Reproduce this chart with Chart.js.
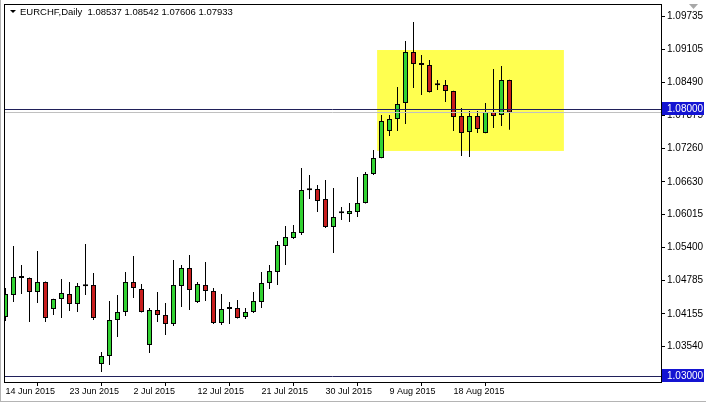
<!DOCTYPE html>
<html>
<head>
<meta charset="utf-8">
<script src="https://cdn.jsdelivr.net/npm/chart.js@4/dist/chart.umd.min.js"></script>
<style>
  html, body { margin: 0; padding: 0; background: #fff; }
  #chart { display: block; }
</style>
</head>
<body>
<canvas id="chart" width="706" height="402"></canvas>
<script>
// daily bars, Sun..Fri like the broker feed
const dates = [
  '14 Jun 2015', '15 Jun 2015', '16 Jun 2015', '17 Jun 2015', '18 Jun 2015', '19 Jun 2015',
  '21 Jun 2015', '22 Jun 2015', '23 Jun 2015', '24 Jun 2015', '25 Jun 2015', '26 Jun 2015',
  '28 Jun 2015', '29 Jun 2015', '30 Jun 2015', '1 Jul 2015', '2 Jul 2015', '3 Jul 2015',
  '5 Jul 2015', '6 Jul 2015', '7 Jul 2015', '8 Jul 2015', '9 Jul 2015', '10 Jul 2015',
  '12 Jul 2015', '13 Jul 2015', '14 Jul 2015', '15 Jul 2015', '16 Jul 2015', '17 Jul 2015',
  '19 Jul 2015', '20 Jul 2015', '21 Jul 2015', '22 Jul 2015', '23 Jul 2015', '24 Jul 2015',
  '26 Jul 2015', '27 Jul 2015', '28 Jul 2015', '29 Jul 2015', '30 Jul 2015', '31 Jul 2015',
  '2 Aug 2015', '3 Aug 2015', '4 Aug 2015', '5 Aug 2015', '6 Aug 2015', '7 Aug 2015',
  '9 Aug 2015', '10 Aug 2015', '11 Aug 2015', '12 Aug 2015', '13 Aug 2015', '14 Aug 2015',
  '16 Aug 2015', '17 Aug 2015', '18 Aug 2015', '19 Aug 2015', '20 Aug 2015', '21 Aug 2015',
  '23 Aug 2015', '24 Aug 2015', '25 Aug 2015', '26 Aug 2015'
];

const opens = [
  1.04097, 1.04509, 1.04830, 1.04828, 1.04566, 1.04753, 1.04247, 1.04434, 1.04528, 1.04341,
  1.04680, 1.04697, 1.03217, 1.03367, 1.04041, 1.04191, 1.04753, 1.04622, 1.03573, 1.04228,
  1.04135, 1.03966, 1.04678, 1.05015, 1.04378, 1.04697, 1.04585, 1.03985, 1.04250, 1.04266,
  1.04097, 1.04191, 1.04378, 1.04734, 1.04940, 1.05427, 1.05577, 1.05671, 1.06480, 1.06495,
  1.06308, 1.05783, 1.06045, 1.06027, 1.06064, 1.06233, 1.06776, 1.07075, 1.07581, 1.07806,
  1.08105, 1.09061, 1.08820, 1.08817, 1.08445, 1.08443, 1.08330, 1.07862, 1.07563, 1.07862,
  1.07544, 1.07937, 1.07881, 1.08537
];
const highs = [
  1.04640, 1.05427, 1.05071, 1.04835, 1.05333, 1.04760, 1.04440, 1.04809, 1.04753, 1.04734,
  1.05465, 1.04922, 1.03442, 1.04397, 1.04509, 1.04940, 1.05240, 1.04716, 1.04266, 1.04566,
  1.04359, 1.05165, 1.05071, 1.05259, 1.04753, 1.05127, 1.04640, 1.04528, 1.04378, 1.04416,
  1.04266, 1.04566, 1.04940, 1.05071, 1.05521, 1.05802, 1.05821, 1.06888, 1.06757, 1.06570,
  1.06663, 1.06514, 1.06158, 1.06233, 1.06720, 1.06813, 1.07225, 1.07881, 1.07881, 1.08405,
  1.09267, 1.09623, 1.09005, 1.08911, 1.08536, 1.08536, 1.08335, 1.08012, 1.07956, 1.07956,
  1.08105, 1.08742, 1.08799, 1.08542
];
const lows = [
  1.04022, 1.04378, 1.04528, 1.04004, 1.04359, 1.04004, 1.04135, 1.04079, 1.04210, 1.04191,
  1.04509, 1.04041, 1.03067, 1.03198, 1.03723, 1.04116, 1.04453, 1.04180, 1.03423, 1.04004,
  1.03760, 1.03929, 1.04285, 1.04228, 1.04359, 1.04397, 1.03966, 1.03947, 1.03966, 1.04070,
  1.04060, 1.04172, 1.04266, 1.04622, 1.04697, 1.05071, 1.05558, 1.05633, 1.06308, 1.06064,
  1.05765, 1.05296, 1.05914, 1.05877, 1.05970, 1.06225, 1.06757, 1.07070, 1.07488, 1.07581,
  1.07712, 1.08387, 1.08255, 1.08300, 1.08349, 1.08124, 1.07581, 1.07113, 1.07094, 1.07544,
  1.07540, 1.07637, 1.07675, 1.07606
];
const closes = [
  1.04528, 1.04847, 1.04828, 1.04566, 1.04753, 1.04079, 1.04434, 1.04547, 1.04341, 1.04678,
  1.04675, 1.04079, 1.03367, 1.04041, 1.04191, 1.04753, 1.04640, 1.04191, 1.04228, 1.04135,
  1.03966, 1.04697, 1.05015, 1.04603, 1.04716, 1.04585, 1.03985, 1.04247, 1.04245, 1.04079,
  1.04191, 1.04397, 1.04734, 1.04959, 1.05446, 1.05596, 1.05690, 1.06476, 1.06472, 1.06270,
  1.05783, 1.05970, 1.06040, 1.06083, 1.06233, 1.06776, 1.07075, 1.07768, 1.07806, 1.08087,
  1.09061, 1.08836, 1.08815, 1.08311, 1.08440, 1.08330, 1.07843, 1.07544, 1.07862, 1.07619,
  1.07937, 1.07862, 1.08536, 1.07933
];

const priceTicks = [1.09735, 1.09105, 1.08490, 1.07875, 1.07260, 1.06630, 1.06015, 1.05400, 1.04785, 1.04155, 1.03540, 1.02925];
const dateTickEvery = 8;

const levels = [1.08000, 1.03000];
const bidPrice = 1.07933;
const zoneFrom = 46.45, zoneTo = 69.8;
const zoneTop = 1.09098, zoneBottom = 1.07207;

const header = 'EURCHF,Daily  1.08537 1.08542 1.07606 1.07933';

const UP = '#32d232', DOWN = '#c81e1e';
const FONT = 'Tahoma, "Liberation Sans", Arial, sans-serif';

Chart.defaults.font.family = FONT;
Chart.defaults.color = '#000';

const bodies = opens.map((o, i) => ({ x: i, y: [o, closes[i]] }));
const wicks = lows.map((l, i) => ({ x: i, y: [l, highs[i]] }));

// no extra room for the tick labels, the frame sits where MT4 puts it
function noPad(s) {
  s.paddingTop = 0; s.paddingBottom = 0; s.paddingLeft = 0; s.paddingRight = 0;
}

const mt4Plugin = {
  id: 'mt4',
  beforeDatasetsDraw(chart) {
    const { ctx, scales: { x, y } } = chart;
    ctx.save();
    ctx.fillStyle = '#ffff50';
    const x0 = x.getPixelForValue(zoneFrom), x1 = x.getPixelForValue(zoneTo);
    const y0 = y.getPixelForValue(zoneTop), y1 = y.getPixelForValue(zoneBottom);
    ctx.fillRect(x0, y0, x1 - x0, y1 - y0);
    ctx.restore();
  },
  afterDatasetsDraw(chart) {
    const { ctx, chartArea: a, scales: { y } } = chart;
    ctx.save();
    ctx.lineWidth = 1;
    const by = Math.round(y.getPixelForValue(bidPrice)) + 0.5;
    ctx.strokeStyle = '#c0c0c0';
    ctx.beginPath(); ctx.moveTo(a.left, by); ctx.lineTo(a.right, by); ctx.stroke();
    ctx.strokeStyle = '#20205a';
    levels.forEach(v => {
      const ly = Math.round(y.getPixelForValue(v)) + 0.5;
      ctx.beginPath(); ctx.moveTo(a.left, ly); ctx.lineTo(a.right, ly); ctx.stroke();
    });
    ctx.restore();
  },
  afterDraw(chart) {
    const { ctx, chartArea: a, scales: { y } } = chart;
    ctx.save();
    // plot frame
    ctx.strokeStyle = '#000';
    ctx.lineWidth = 1;
    ctx.strokeRect(a.left + 0.5, a.top + 0.5, a.right - a.left, a.bottom - a.top);
    // window edges
    ctx.strokeStyle = '#b4b4b4';
    ctx.beginPath();
    ctx.moveTo(0.5, 0); ctx.lineTo(0.5, 402);
    ctx.moveTo(0, 401.5); ctx.lineTo(706, 401.5);
    ctx.stroke();
    // price labels of the horizontal lines
    ctx.font = '10px ' + FONT;
    ctx.textBaseline = 'middle';
    levels.forEach(v => {
      const ly = Math.round(y.getPixelForValue(v));
      ctx.fillStyle = '#1414d2';
      ctx.fillRect(a.right + 1, ly - 7, 706 - a.right - 3, 13);
      ctx.fillStyle = '#fff';
      ctx.fillText(v.toFixed(5), a.right + 6, ly);
    });
    // header
    ctx.fillStyle = '#000';
    ctx.beginPath();
    ctx.moveTo(10, 10); ctx.lineTo(16, 10); ctx.lineTo(13, 13); ctx.closePath();
    ctx.fill();
    ctx.font = '9.5px ' + FONT;
    ctx.fillText(header, 20, 12);
    // shift marker top right
    ctx.fillStyle = '#a8a8a8';
    ctx.beginPath();
    ctx.moveTo(689, 4); ctx.lineTo(698, 4); ctx.lineTo(693.5, 9); ctx.closePath();
    ctx.fill();
    ctx.restore();
  }
};

new Chart(document.getElementById('chart'), {
  type: 'bar',
  data: {
    datasets: [
      {
        label: 'body',
        data: bodies,
        grouped: false,
        barThickness: 5,
        minBarLength: 2,
        backgroundColor: c => closes[c.dataIndex] >= opens[c.dataIndex] ? UP : DOWN,
        borderColor: '#000',
        borderWidth: 1,
        borderSkipped: false,
        inflateAmount: 0
      },
      {
        label: 'wick',
        data: wicks,
        grouped: false,
        barThickness: 1,
        backgroundColor: '#000',
        borderWidth: 0,
        inflateAmount: 0
      }
    ]
  },
  options: {
    responsive: false,
    animation: false,
    events: [],
    layout: { padding: { left: 4, top: 4, right: 0, bottom: 0 } },
    plugins: { legend: { display: false }, tooltip: { enabled: false } },
    scales: {
      x: {
        type: 'linear',
        offset: false,
        min: -0.1875,
        max: 81.9375,
        afterFit: s => { s.height = 20; noPad(s); },
        afterBuildTicks: s => {
          s.ticks = dates.map((d, i) => i).filter(i => i % dateTickEvery === 0).map(v => ({ value: v }));
        },
        grid: { drawOnChartArea: false, drawTicks: true, tickLength: 4, color: '#000' },
        border: { display: false },
        ticks: {
          align: 'start',
          autoSkip: false,
          maxRotation: 0,
          padding: 0,
          font: { size: 9 },
          callback: v => dates[v]
        }
      },
      y: {
        position: 'right',
        min: 1.02879,
        max: 1.09960,
        afterFit: s => { s.width = 45; noPad(s); },
        afterBuildTicks: s => { s.ticks = priceTicks.map(v => ({ value: v })); },
        grid: { drawOnChartArea: false, drawTicks: true, tickLength: 4, color: '#000' },
        border: { display: false },
        ticks: {
          padding: 2,
          font: { size: 10 },
          callback: v => v.toFixed(5)
        }
      }
    }
  },
  plugins: [mt4Plugin]
});
</script>
</body>
</html>
